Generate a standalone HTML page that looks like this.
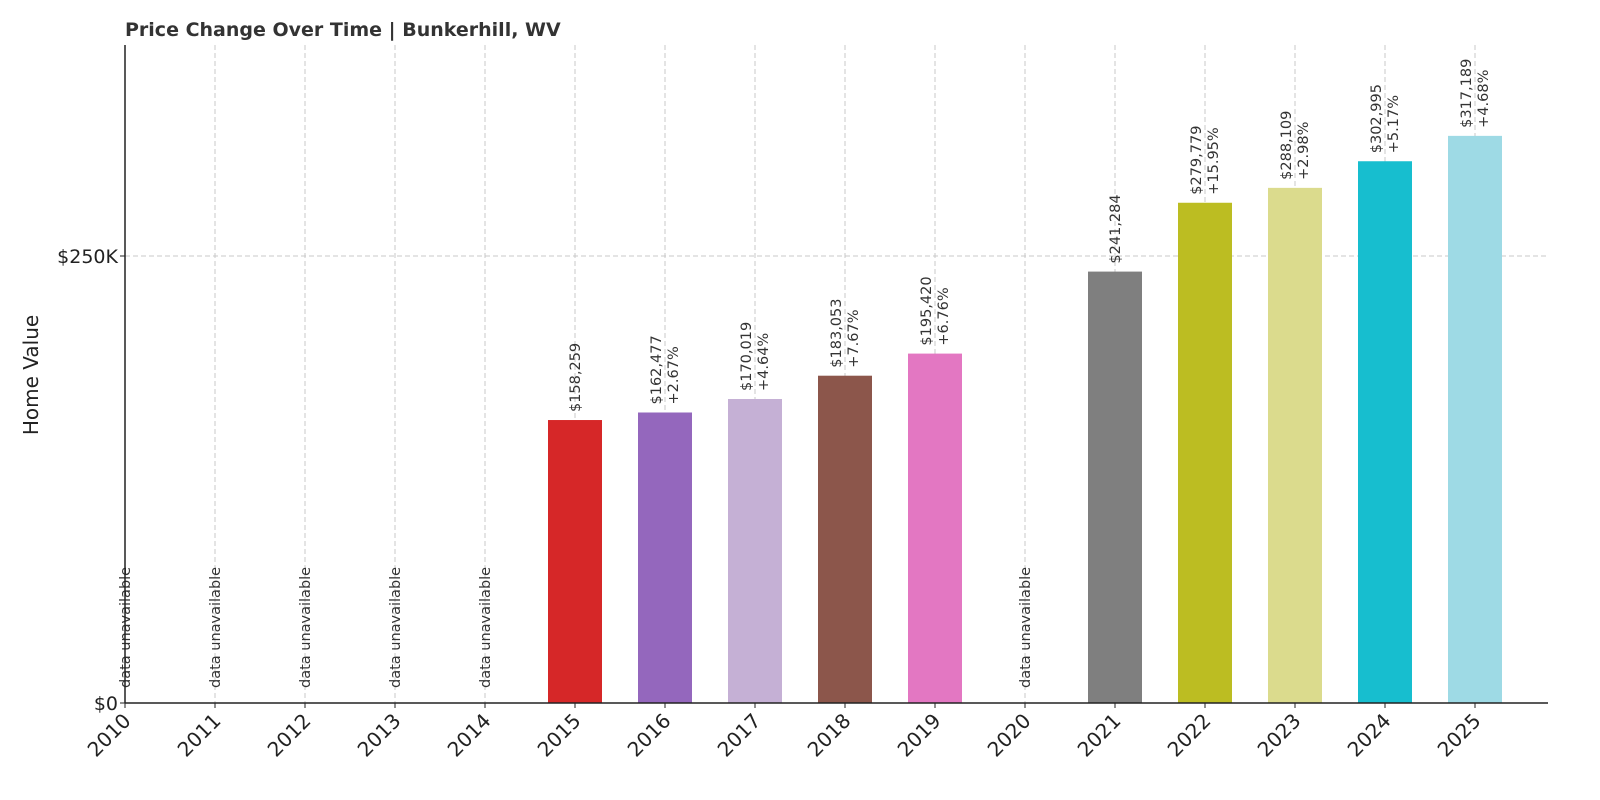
<!DOCTYPE html>
<html><head><meta charset="utf-8"><style>
body{margin:0;background:#fff;}
svg{display:block;font-family:"DejaVu Sans","Liberation Sans",sans-serif;}
</style></head><body>
<svg id="chart" width="1600" height="800">
<text x="125" y="36" font-size="19" font-weight="bold" fill="#333">Price Change Over Time | Bunkerhill, WV</text>
<text transform="translate(38,375) rotate(-90)" text-anchor="middle" font-size="20" fill="#222">Home Value</text>
<g id="grid"></g><g id="bars"></g><g id="labels"></g><g id="axes"></g>
</svg>
<script>
const years = [2010,2011,2012,2013,2014,2015,2016,2017,2018,2019,2020,2021,2022,2023,2024,2025];
const values = [null,null,null,null,null,158259,162477,170019,183053,195420,null,241284,279779,288109,302995,317189];
const changes = [null,null,null,null,null,null,"+2.67%","+4.64%","+7.67%","+6.76%",null,null,"+15.95%","+2.98%","+5.17%","+4.68%"];
const colors = ["#1f77b4","#ff7f0e","#2ca02c","#d62728","#9467bd","#d62728","#9467bd","#c5b0d5","#8c564b","#e377c2","#7f7f7f","#7f7f7f","#bcbd22","#dbdb8d","#17becf","#9edae5"];
const yTicks = [0,250000];
const yTickLabels = ["$0","$250K"];
const NS="http://www.w3.org/2000/svg";
const x0=125,x1=1548,yb=703,ytop=45;
const xs=i=>125+i*90;
const ys=v=>yb-v*(447/250000);
function mk(tag,attrs,parent,txt){const e=document.createElementNS(NS,tag);for(const k in attrs)e.setAttribute(k,attrs[k]);if(txt!=null)e.textContent=txt;parent.appendChild(e);return e;}
const grid=document.getElementById('grid'),bars=document.getElementById('bars'),labels=document.getElementById('labels'),axes=document.getElementById('axes');
years.forEach((y,i)=>{
  const g=mk('line',{x1:xs(i),x2:xs(i),y1:ytop,y2:yb,stroke:'#c8c8c8','stroke-dasharray':'5,3','stroke-width':1},grid);
  
  
  const v=values[i];
  if(v==null){
    const t=mk('text',{transform:`translate(${xs(i)+5},688) rotate(-90)`,'font-size':14.5,fill:'#333'},labels,'data unavailable');
    
    
  } else {
    const b=mk('rect',{x:xs(i)-27,y:ys(v),width:54,height:yb-ys(v),fill:colors[i]},bars);
    
    
    const top=ys(v)-8;
    const val='$'+v.toLocaleString('en-US');
    if(changes[i]){
      const t1=mk('text',{transform:`translate(${xs(i)-4},${top}) rotate(-90)`,'font-size':14.5,fill:'#333'},labels,val);
      
      
      const t2=mk('text',{transform:`translate(${xs(i)+13},${top}) rotate(-90)`,'font-size':14.5,fill:'#333'},labels,changes[i]);
      
      
    } else {
      const t1=mk('text',{transform:`translate(${xs(i)+5},${top}) rotate(-90)`,'font-size':14.5,fill:'#333'},labels,val);
      
      
    }
  }
  const tk=mk('line',{x1:xs(i),x2:xs(i),y1:yb,y2:yb+5,stroke:'#222'},axes);
  
  
  const tl=mk('text',{transform:`translate(${xs(i)+7},${yb+19}) rotate(-45)`,'text-anchor':'end','font-size':20,fill:'#222'},axes,String(y));
  
  
});
yTicks.forEach((v,j)=>{
  if(v>0){const g=mk('line',{x1:x0,x2:x1,y1:ys(v),y2:ys(v),stroke:'#c8c8c8','stroke-dasharray':'5,3'},grid);
  
  }
  const tk=mk('line',{x1:x0-5,x2:x0,y1:ys(v),y2:ys(v),stroke:'#222'},axes);
  
  
  const t=mk('text',{x:x0-7,y:ys(v)+7,'text-anchor':'end','font-size':19,fill:'#222'},axes,yTickLabels[j]);
  
  
});
const ax=mk('line',{x1:x0,x2:x0,y1:ytop,y2:yb,stroke:'#222','stroke-width':1.5},axes);


const bx=mk('line',{x1:x0,x2:x1,y1:yb,y2:yb,stroke:'#222','stroke-width':1.5},axes);


</script>
</body></html>
